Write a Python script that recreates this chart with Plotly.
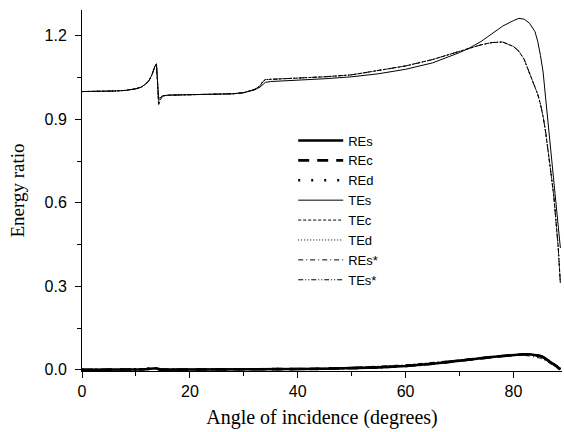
import plotly.graph_objects as go

# Angle of incidence (degrees)
angle = [0, 2, 4, 6, 8, 10, 11, 12, 12.5, 13, 13.5, 13.8, 14.0, 14.2, 14.5, 15, 16, 18, 20,
         22, 24, 26, 28, 30, 31, 32, 33, 33.5, 34, 35, 36, 38, 40, 45, 50, 55, 60, 65, 70,
         72, 74, 76, 78, 80, 81, 82, 83, 84, 84.5, 85, 85.5, 86, 86.5, 87, 87.5, 88, 88.3, 88.7]

TEs = [1.000, 1.000, 1.001, 1.002, 1.004, 1.010, 1.016, 1.030, 1.042, 1.062, 1.090, 1.100, 1.040,
       0.975, 0.978, 0.985, 0.987, 0.988, 0.988, 0.988, 0.989, 0.990, 0.992, 0.996, 1.000, 1.006,
       1.016, 1.026, 1.033, 1.036, 1.037, 1.038, 1.040, 1.046, 1.053, 1.064, 1.080, 1.103, 1.140,
       1.158, 1.180, 1.208, 1.235, 1.255, 1.263, 1.260, 1.245, 1.215, 1.180, 1.130, 1.070, 0.970,
       0.870, 0.770, 0.690, 0.570, 0.520, 0.438]

TEc = [1.000, 1.000, 1.001, 1.002, 1.004, 1.010, 1.016, 1.030, 1.042, 1.062, 1.090, 1.098, 1.030,
       0.950, 0.970, 0.984, 0.987, 0.988, 0.988, 0.988, 0.989, 0.990, 0.992, 0.996, 1.001, 1.008,
       1.020, 1.035, 1.043, 1.044, 1.045, 1.046, 1.047, 1.053, 1.060, 1.076, 1.092, 1.115, 1.143,
       1.156, 1.168, 1.176, 1.178, 1.162, 1.145, 1.115, 1.067, 1.015, 0.990, 0.955, 0.910, 0.850,
       0.780, 0.700, 0.620, 0.505, 0.440, 0.310]

TEd = [1.000, 1.000, 1.001, 1.002, 1.004, 1.010, 1.016, 1.030, 1.042, 1.062, 1.090, 1.098, 1.035,
       0.960, 0.972, 0.984, 0.987, 0.988, 0.988, 0.988, 0.989, 0.990, 0.992, 0.996, 1.001, 1.008,
       1.020, 1.035, 1.043, 1.044, 1.045, 1.046, 1.047, 1.053, 1.060, 1.076, 1.092, 1.115, 1.143,
       1.156, 1.168, 1.176, 1.178, 1.162, 1.145, 1.115, 1.067, 1.015, 0.990, 0.955, 0.910, 0.850,
       0.780, 0.700, 0.620, 0.505, 0.440, 0.310]

TEs_star = [1.000, 1.000, 1.001, 1.002, 1.004, 1.010, 1.016, 1.030, 1.042, 1.062, 1.090, 1.098, 1.035,
            0.965, 0.975, 0.985, 0.987, 0.988, 0.988, 0.988, 0.989, 0.990, 0.992, 0.996, 1.001, 1.008,
            1.020, 1.035, 1.043, 1.044, 1.045, 1.046, 1.047, 1.053, 1.060, 1.076, 1.092, 1.115, 1.143,
            1.156, 1.168, 1.176, 1.178, 1.162, 1.145, 1.115, 1.067, 1.015, 0.990, 0.955, 0.910, 0.850,
            0.780, 0.700, 0.620, 0.505, 0.440, 0.310]

REs = [0.000, 0.000, 0.000, 0.001, 0.001, 0.001, 0.002, 0.003, 0.004, 0.005, 0.006, 0.006, 0.004,
       0.002, 0.001, 0.001, 0.001, 0.001, 0.001, 0.001, 0.001, 0.002, 0.002, 0.002, 0.002, 0.002,
       0.003, 0.003, 0.003, 0.003, 0.003, 0.003, 0.003, 0.004, 0.006, 0.009, 0.014, 0.022, 0.033,
       0.038, 0.042, 0.046, 0.050, 0.054, 0.055, 0.056, 0.056, 0.054, 0.052, 0.050, 0.046, 0.040,
       0.034, 0.027, 0.020, 0.013, 0.008, 0.002]

REc = [0.000, 0.000, 0.000, 0.001, 0.001, 0.001, 0.002, 0.003, 0.004, 0.005, 0.006, 0.006, 0.004,
       0.002, 0.001, 0.001, 0.001, 0.001, 0.001, 0.001, 0.001, 0.002, 0.002, 0.002, 0.002, 0.002,
       0.003, 0.003, 0.003, 0.003, 0.003, 0.003, 0.003, 0.004, 0.006, 0.009, 0.014, 0.022, 0.033,
       0.038, 0.042, 0.046, 0.050, 0.054, 0.055, 0.056, 0.056, 0.054, 0.052, 0.050, 0.046, 0.040,
       0.034, 0.027, 0.020, 0.013, 0.008, 0.002]

REd = [0.000, 0.000, 0.000, 0.001, 0.001, 0.001, 0.002, 0.003, 0.004, 0.005, 0.006, 0.006, 0.004,
       0.002, 0.001, 0.001, 0.001, 0.001, 0.001, 0.001, 0.001, 0.002, 0.002, 0.002, 0.002, 0.002,
       0.003, 0.003, 0.003, 0.003, 0.003, 0.003, 0.003, 0.004, 0.006, 0.009, 0.014, 0.022, 0.033,
       0.038, 0.042, 0.046, 0.050, 0.054, 0.055, 0.056, 0.056, 0.054, 0.052, 0.050, 0.046, 0.040,
       0.034, 0.027, 0.020, 0.013, 0.008, 0.002]

REs_star = [0.000, 0.000, 0.000, 0.001, 0.001, 0.001, 0.002, 0.003, 0.004, 0.005, 0.006, 0.006, 0.004,
            0.002, 0.001, 0.001, 0.001, 0.001, 0.001, 0.001, 0.001, 0.002, 0.002, 0.002, 0.002, 0.003,
            0.003, 0.004, 0.004, 0.004, 0.004, 0.004, 0.005, 0.006, 0.009, 0.013, 0.018, 0.027, 0.037,
            0.041, 0.045, 0.048, 0.051, 0.053, 0.053, 0.052, 0.050, 0.047, 0.045, 0.042, 0.038, 0.032,
            0.027, 0.021, 0.015, 0.010, 0.006, 0.001]

series = [
    ("REs", REs, 2.6, "solid"),
    ("REc", REc, 2.6, "11px,8px"),
    ("REd", REd, 2.6, "2px,11px"),
    ("TEs", TEs, 1.0, "solid"),
    ("TEc", TEc, 1.0, "3px,2px"),
    ("TEd", TEd, 1.0, "1px,2px"),
    ("REs*", REs_star, 1.0, "5px,3px,1px,3px"),
    ("TEs*", TEs_star, 1.0, "5px,2px,1px,2px,1px,2px"),
]

fig = go.Figure()
for name, vals, w, dash in series:
    fig.add_trace(go.Scatter(x=angle, y=vals, mode="lines", name=name,
                             line=dict(color="black", width=w, dash=dash)))

axis_common = dict(
    showgrid=False, zeroline=False, showline=True, linecolor="black", linewidth=1,
    ticks="outside", ticklen=6, tickcolor="black", tickwidth=1,
    tickfont=dict(family="Liberation Sans, Arial, sans-serif", size=16, color="black"),
)

fig.update_layout(
    width=564, height=432,
    margin=dict(l=82, r=1.5, t=10, b=61),
    paper_bgcolor="white", plot_bgcolor="white",
    xaxis=dict(range=[0, 89], tickvals=[0, 20, 40, 60, 80],
               minor=dict(ticks="outside", ticklen=4, dtick=10, tick0=0, tickcolor="black"),
               title=dict(text="Angle of incidence (degrees)", standoff=10,
                          font=dict(family="Liberation Serif, Times New Roman, serif", size=20, color="black")),
               **axis_common),
    yaxis=dict(range=[-0.004, 1.293], tickvals=[0, 0.3, 0.6, 0.9, 1.2], tickformat=".1f",
               ticklabelstandoff=5,
               minor=dict(ticks="outside", ticklen=4, dtick=0.15, tick0=0, tickcolor="black"),
               title=dict(text="Energy ratio", standoff=14,
                          font=dict(family="Liberation Serif, Times New Roman, serif", size=19, color="black")),
               **axis_common),
    legend=dict(x=0.44, y=0.68, xanchor="left", yanchor="top", bgcolor="rgba(0,0,0,0)",
                font=dict(family="Liberation Sans, Arial, sans-serif", size=13, color="black"),
                itemwidth=45, tracegroupgap=0),
    showlegend=True,
)

fig.write_html("out.html")
